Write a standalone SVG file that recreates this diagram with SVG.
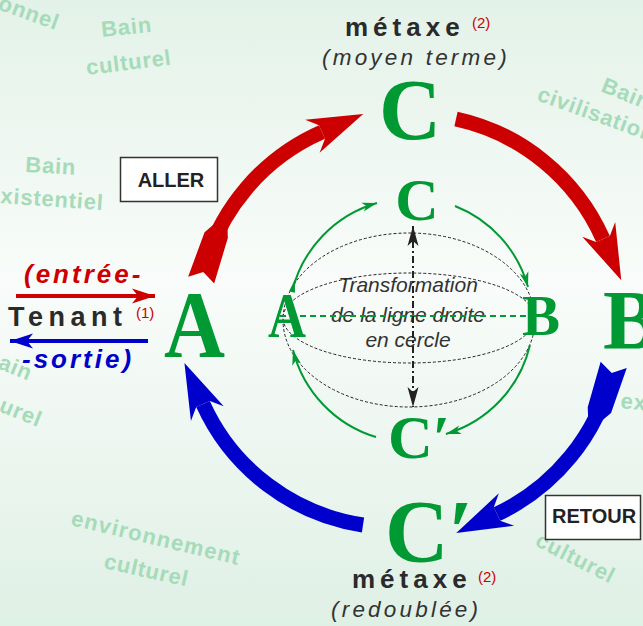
<svg xmlns="http://www.w3.org/2000/svg" width="643" height="626" viewBox="0 0 643 626">
<defs>
<linearGradient id="bg" x1="0" y1="0" x2="0" y2="1">
<stop offset="0" stop-color="#e3f2e8"/>
<stop offset="0.45" stop-color="#f9fcfa"/>
<stop offset="1" stop-color="#dff0e5"/>
</linearGradient>
<marker id="hr" markerUnits="strokeWidth" orient="auto" overflow="visible" markerWidth="1" markerHeight="1"><path d="M3,0 L-0.7,-1.2 L0,-0.5 L0,0.5 L-0.7,1.2 Z" fill="#cc0000"/></marker>
<marker id="hb" markerUnits="strokeWidth" orient="auto" overflow="visible" markerWidth="1" markerHeight="1"><path d="M3,0 L-0.7,-1.2 L0,-0.5 L0,0.5 L-0.7,1.2 Z" fill="#0000cc"/></marker>
<marker id="tr" markerUnits="strokeWidth" orient="auto" overflow="visible" markerWidth="1" markerHeight="1"><path d="M-0.55,-0.88 L2.6,-0.56 L3.2,-0.13 L3.2,0.87 L2.6,1.04 L-0.55,0.91 L0,0.02 Z" fill="#cc0000"/></marker>
<marker id="tb" markerUnits="strokeWidth" orient="auto" overflow="visible" markerWidth="1" markerHeight="1"><path d="M-0.55,-0.88 L2.6,-0.56 L3.2,-0.13 L3.2,0.87 L2.6,1.04 L-0.55,0.91 L0,0.02 Z" fill="#0000cc"/></marker>
<marker id="hg" markerUnits="userSpaceOnUse" orient="auto" overflow="visible" markerWidth="1" markerHeight="1"><path d="M0,0 L-15,-4.5 L-11,0 L-15,4.5 Z" fill="#009933"/></marker>
<marker id="wg" markerUnits="userSpaceOnUse" orient="auto" overflow="visible" markerWidth="1" markerHeight="1"><path d="M13,0 L0,-3 L0,3 Z" fill="#009933"/></marker>
<marker id="hk" markerUnits="userSpaceOnUse" orient="auto-start-reverse" overflow="visible" markerWidth="1" markerHeight="1"><path d="M0,0 L-20,-5.5 L-15,0 L-20,5.5 Z" fill="#222"/></marker>
<marker id="sr" markerUnits="userSpaceOnUse" orient="auto" overflow="visible" markerWidth="1" markerHeight="1"><path d="M0,0 L-23,-7.5 L-17,0 L-23,7.5 Z" fill="#cc0000"/></marker>
<marker id="sb" markerUnits="userSpaceOnUse" orient="auto" overflow="visible" markerWidth="1" markerHeight="1"><path d="M0,0 L-23,-7.5 L-17,0 L-23,7.5 Z" fill="#0000cc"/></marker>
</defs>
<style>
.bgt{font-family:"Liberation Sans",Arial,sans-serif;font-weight:bold;font-size:22px;letter-spacing:0.8px;fill:#a6dbb9}
.big{font-family:"Liberation Serif","Times New Roman",serif;font-weight:bold;fill:#009933}
.lab{font-family:"Liberation Sans",Arial,sans-serif;fill:#2a2a2a}
.mx{font-weight:bold;font-size:26px;letter-spacing:5px}
.sub{font-style:italic;font-size:22.5px;letter-spacing:3.2px;fill:#333}
.sup{font-family:"Liberation Sans",Arial,sans-serif;font-size:15px;fill:#cc0000}
.box{fill:#fff;stroke:#333;stroke-width:1.5}
.boxt{font-family:"Liberation Sans",Arial,sans-serif;font-weight:bold;font-size:20px;fill:#222}
.arc{fill:none;stroke-width:15}
.garc{fill:none;stroke:#009933;stroke-width:2}
.dash{fill:none;stroke:#222;stroke-width:1;stroke-dasharray:3 2}
.tr{font-family:"Liberation Sans",Arial,sans-serif;font-style:italic;font-size:21px;fill:#333;text-anchor:middle}
.io{font-family:"Liberation Sans",Arial,sans-serif;font-weight:bold;font-style:italic;font-size:26px;letter-spacing:3px}
</style>
<rect width="643" height="626" fill="url(#bg)"/>

<g id="background-words">
<text class="bgt" transform="translate(-3,9) rotate(20)">onnel</text>
<text class="bgt" transform="translate(102,37) rotate(-6)">Bain</text>
<text class="bgt" transform="translate(87,75) rotate(-7)">culturel</text>
<text class="bgt" transform="translate(25,172) rotate(3)">Bain</text>
<text class="bgt" transform="translate(0,203) rotate(4)">xistentiel</text>
<text class="bgt" transform="translate(600,91) rotate(22)">Bain</text>
<text class="bgt" transform="translate(536,100) rotate(20)">civilisation</text>
<text class="bgt" transform="translate(-3,368) rotate(22)">ain</text>
<text class="bgt" transform="translate(-2,411) rotate(22)">urel</text>
<text class="bgt" transform="translate(620,408) rotate(6)">ex</text>
<text class="bgt" style="letter-spacing:1.2px" transform="translate(70,525) rotate(13.4)">environnement</text>
<text class="bgt" transform="translate(103,568) rotate(12.5)">culturel</text>
<text class="bgt" transform="translate(534,545) rotate(27)">culturel</text>
</g>

<g id="inner-diagram">
<text class="tr" x="408" y="292">Transformation</text>
<text class="tr" x="408" y="322">de la ligne droite</text>
<text class="tr" x="408" y="347">en cercle</text>
<ellipse class="dash" cx="409" cy="320" rx="126" ry="87"/>
<ellipse class="dash" cx="409" cy="318" rx="126" ry="45"/>
<line x1="280" y1="316" x2="532" y2="316" stroke="#009933" stroke-width="2" stroke-dasharray="6 4"/>
<path d="M413,226 L413,407" fill="none" stroke="#222" stroke-width="2" stroke-dasharray="7 3 2 3" marker-start="url(#hk)" marker-end="url(#hk)"/>
</g>

<g id="inner-connectors">
<path class="garc" d="M292,292 A122,122 0 0 1 377,203" marker-start="url(#wg)" marker-end="url(#hg)"/>
<path class="garc" d="M455,206 A122,122 0 0 1 528,287" marker-end="url(#hg)"/>
<path class="garc" d="M530,345 A122,122 0 0 1 446,434" marker-end="url(#hg)"/>
<path class="garc" d="M376,437 A122,122 0 0 1 293,350" marker-end="url(#hg)"/>
</g>

<g id="inner-nodes">
<g id="node-inner-C"><text class="big" x="417" y="220" font-size="60" text-anchor="middle">C</text></g>
<g id="node-inner-A"><text class="big" x="268" y="337" font-size="64" textLength="38" lengthAdjust="spacingAndGlyphs">A</text></g>
<g id="node-inner-B"><text class="big" x="522" y="335" font-size="57">B</text></g>
<g id="node-inner-Cp"><text class="big" x="388" y="458" font-size="62">C′</text></g>
</g>

<g id="connectors">
<path class="arc" stroke="#cc0000" d="M203,272 A210,210 0 0 1 322,132" marker-start="url(#tr)" marker-end="url(#hr)"/>
<path class="arc" stroke="#cc0000" d="M456,119 A210,210 0 0 1 603,239" marker-end="url(#hr)"/>
<path class="arc" stroke="#0000cc" d="M612,373 A210,210 0 0 1 497,514" marker-start="url(#tb)" marker-end="url(#hb)"/>
<path class="arc" stroke="#0000cc" d="M363,525 A210,210 0 0 1 203,404" marker-end="url(#hb)"/>
<line x1="16" y1="296" x2="155" y2="296" stroke="#cc0000" stroke-width="4" marker-end="url(#sr)"/>
<line x1="148" y1="341" x2="10" y2="341" stroke="#0000cc" stroke-width="4" marker-end="url(#sb)"/>
</g>

<g id="node-C">
<text class="lab mx" x="345" y="36">métaxe</text>
<text class="sup" x="472" y="28">(2)</text>
<text class="lab sub" x="322" y="65">(moyen terme)</text>
<text class="big" x="410" y="139" font-size="86" text-anchor="middle">C</text>
</g>

<g id="node-A">
<text class="big" x="164" y="357" font-size="96" textLength="61" lengthAdjust="spacingAndGlyphs">A</text>
</g>

<g id="node-B">
<text class="big" x="603" y="349" font-size="84">B</text>
</g>

<g id="node-Cp">
<text class="big" x="385" y="561" font-size="88">C′</text>
<text class="lab mx" x="352" y="588">métaxe</text>
<text class="sup" x="478" y="582">(2)</text>
<text class="lab sub" x="331" y="617">(redoublée)</text>
</g>

<g id="node-tenant">
<text class="io" x="24" y="283" fill="#cc0000">(entrée-</text>
<text class="lab" x="8" y="326" font-size="27" font-weight="bold" letter-spacing="5.5">Tenant</text>
<text class="sup" x="136" y="318">(1)</text>
<text class="io" x="22" y="368" fill="#0000cc">-sortie)</text>
</g>

<g id="node-aller">
<rect class="box" x="120.5" y="157.5" width="97" height="44"/>
<text class="boxt" x="171" y="187" text-anchor="middle">ALLER</text>
</g>

<g id="node-retour">
<rect class="box" x="545.5" y="495.5" width="95" height="44"/>
<text class="boxt" x="552" y="523">RETOUR</text>
</g>
</svg>
